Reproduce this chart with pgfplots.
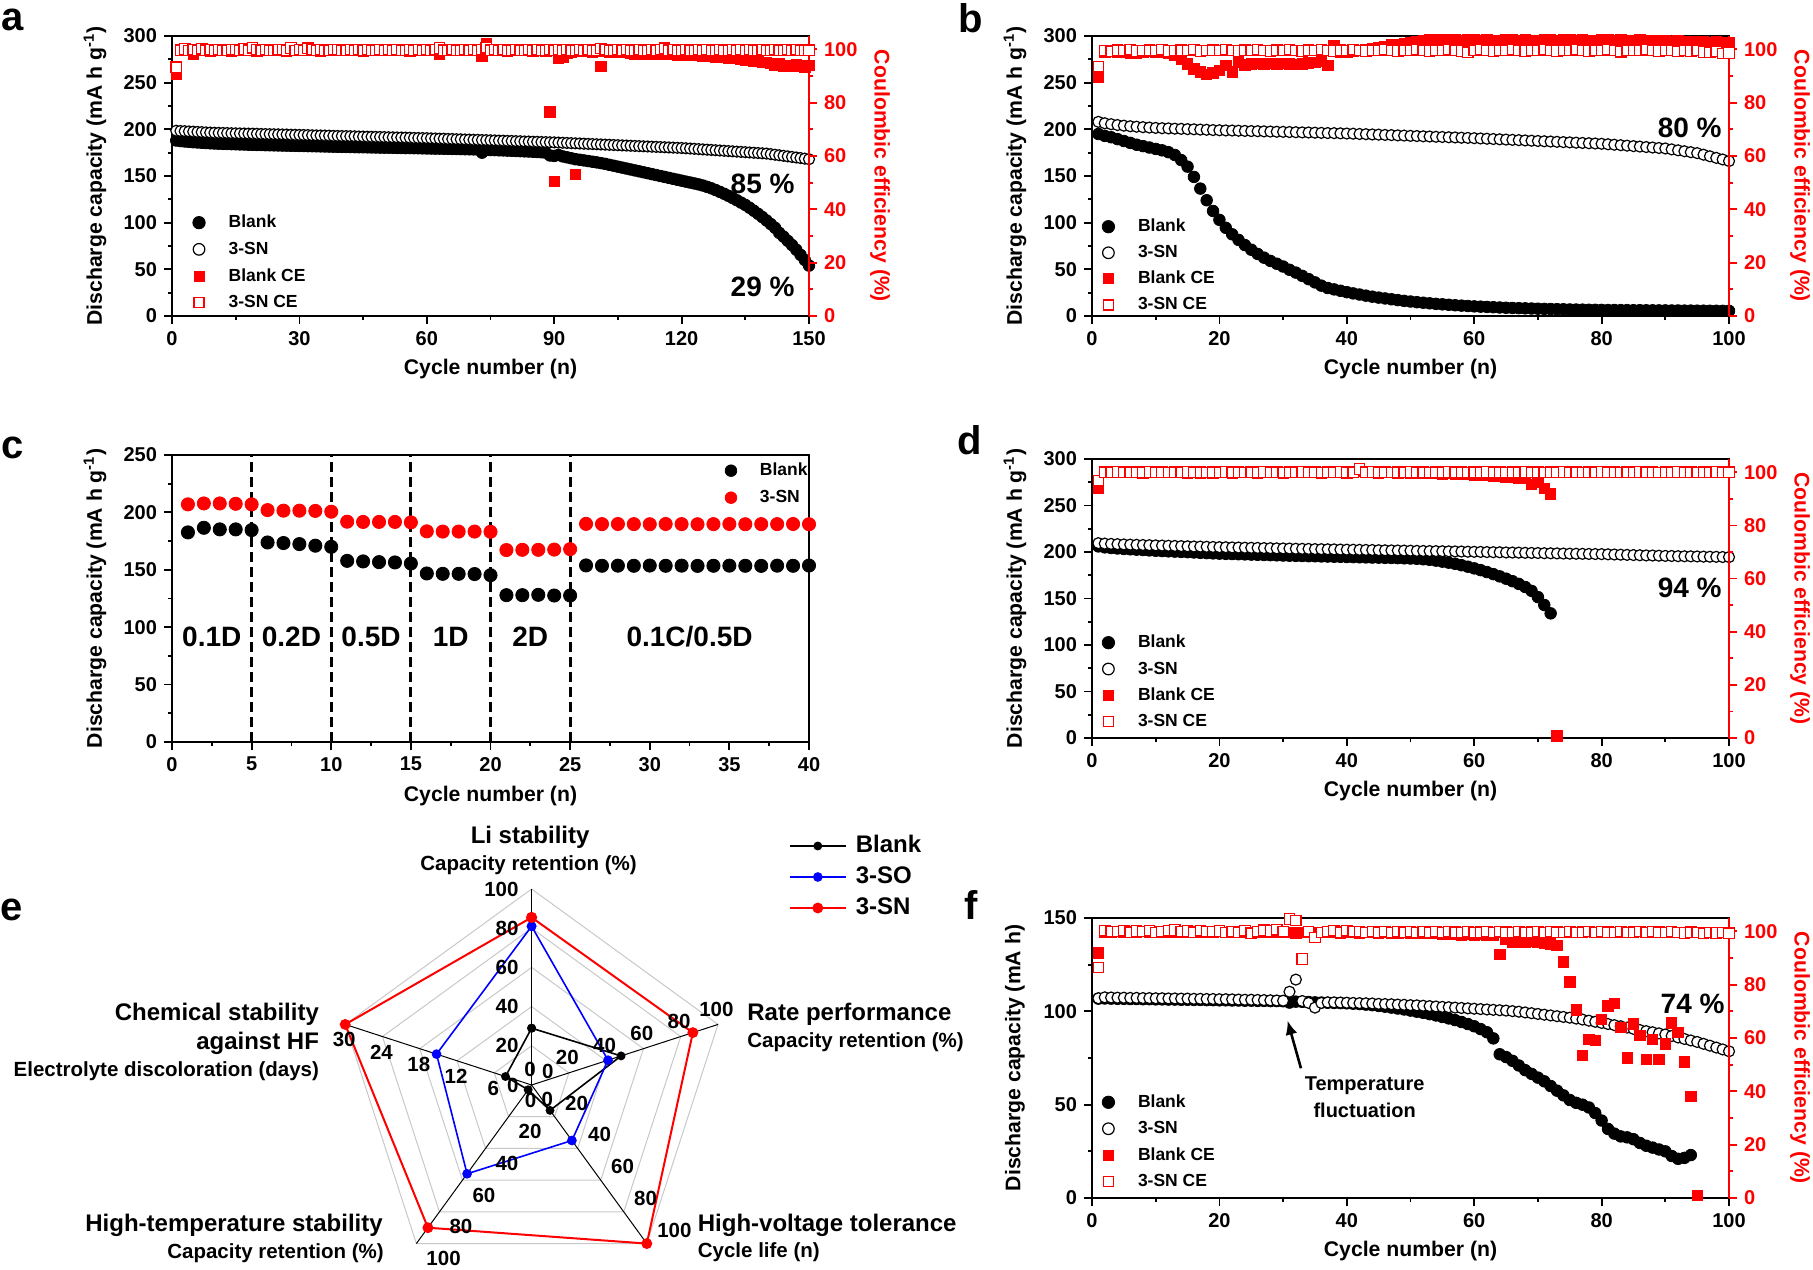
\documentclass[border=0pt]{standalone}
\usepackage{fontspec}
\setmainfont{Liberation Sans}
\usepackage{pgfplots}
\pgfplotsset{compat=1.18}
\usepackage{pgfplotstable}
\usepgfplotslibrary{polar}
\usetikzlibrary{arrows.meta}
\newcommand{\fsz}[1]{\fontsize{#1}{#1}\selectfont\bfseries}
\definecolor{myred}{RGB}{255,0,0}
\definecolor{myblue}{RGB}{0,0,255}
\definecolor{gridgray}{RGB}{200,200,200}

\pgfplotstableread{
x bl sn blce snce
1 188.0 198.5 90.5 93.3
2 187.4 198.2 99.6 99.7
3 187.0 198.0 99.8 100.1
4 186.6 197.7 99.5 99.6
5 186.2 197.5 98.2 99.9
6 185.9 197.2 99.7 99.5
7 185.6 197.0 99.6 100.2
8 185.3 196.7 99.8 99.7
9 185.0 196.5 99.4 99.8
10 184.8 196.3 99.7 99.6
11 184.6 196.2 99.5 100.0
12 184.4 196.1 99.9 99.7
13 184.3 196.0 99.6 99.5
14 184.1 195.8 99.3 99.9
15 184.0 195.7 99.7 99.8
16 183.8 195.6 99.8 99.6
17 183.7 195.5 99.5 100.1
18 183.5 195.4 99.6 99.7
19 183.4 195.3 99.9 100.6
20 183.3 195.2 99.4 99.8
21 183.2 195.0 99.7 99.6
22 183.0 194.9 99.6 99.9
23 182.9 194.8 99.8 99.7
24 182.8 194.7 99.5 99.5
25 182.7 194.6 99.7 99.8
26 182.6 194.5 99.6 100.0
27 182.5 194.4 99.4 99.7
28 182.4 194.2 99.8 100.5
29 182.3 194.1 99.6 99.6
30 182.2 194.0 99.7 99.8
31 182.1 193.9 99.5 99.7
32 182.0 193.8 99.8 100.4
33 181.9 193.6 99.6 99.9
34 181.8 193.5 99.7 99.6
35 181.7 193.4 99.4 99.8
36 181.6 193.3 99.6 99.7
37 181.5 193.2 99.8 99.5
38 181.4 193.0 99.5 99.8
39 181.3 192.9 99.7 100.0
40 181.2 192.8 99.6 99.7
41 181.1 192.7 99.8 99.6
42 181.0 192.6 99.5 99.9
43 180.9 192.5 99.7 99.7
44 180.8 192.3 99.6 99.8
45 180.8 192.2 99.4 99.6
46 180.7 192.1 99.7 99.9
47 180.6 192.0 99.8 99.7
48 180.5 191.9 99.6 99.5
49 180.4 191.8 99.5 99.8
50 180.3 191.7 99.7 99.7
51 180.3 191.5 99.6 99.9
52 180.2 191.4 99.8 99.6
53 180.1 191.3 99.5 99.8
54 180.0 191.2 99.7 99.7
55 179.9 191.1 99.6 99.5
56 179.9 191.0 99.4 99.8
57 179.8 190.8 99.7 99.7
58 179.7 190.7 99.6 100.0
59 179.6 190.6 99.8 99.6
60 179.5 190.5 99.5 99.8
61 179.4 190.3 99.6 99.7
62 179.3 190.2 99.7 99.9
63 179.3 190.0 98.0 100.5
64 179.2 189.9 99.6 99.7
65 179.1 189.7 99.5 99.6
66 179.0 189.6 99.7 99.8
67 178.9 189.4 99.6 99.7
68 178.8 189.3 99.8 99.5
69 178.7 189.1 99.5 99.8
70 178.6 189.0 99.6 99.7
71 178.5 188.8 99.7 99.9
72 178.4 188.7 99.5 99.6
73 175.0 188.5 97.5 99.8
74 178.0 188.4 102.2 100.6
75 177.8 188.2 99.6 99.7
76 177.7 188.1 99.5 99.8
77 177.5 187.9 99.7 99.6
78 177.4 187.8 99.6 99.9
79 177.2 187.6 99.4 99.7
80 177.0 187.5 99.7 99.5
81 176.8 187.3 99.6 99.8
82 176.6 187.2 99.5 99.7
83 176.4 187.0 99.7 99.6
84 176.2 186.9 99.6 99.9
85 176.0 186.7 99.4 99.7
86 175.7 186.6 99.6 99.8
87 175.4 186.4 99.5 99.6
88 175.0 186.3 99.3 99.7
89 172.0 186.1 76.5 99.8
90 171.5 186.0 50.5 99.6
91 172.5 185.8 96.8 99.9
92 171.0 185.6 97.0 99.7
93 170.0 185.4 98.5 99.8
94 169.0 185.2 99.0 99.6
95 168.0 185.0 53.0 99.7
96 167.4 184.8 99.3 99.9
97 166.7 184.6 99.2 99.6
98 166.0 184.4 99.4 99.8
99 165.3 184.2 99.1 99.7
100 164.6 184.0 99.3 99.5
101 163.8 183.8 93.6 100.3
102 163.0 183.6 99.2 99.8
103 162.0 183.4 99.0 99.6
104 161.0 183.2 99.3 99.7
105 160.0 183.0 99.1 99.9
106 159.0 182.8 99.0 99.6
107 158.0 182.6 98.8 99.8
108 157.0 182.4 98.4 99.7
109 156.0 182.2 98.3 99.5
110 155.0 182.0 98.5 99.8
111 154.0 181.8 98.2 99.6
112 153.0 181.6 98.4 99.7
113 152.0 181.4 98.3 99.9
114 151.0 181.2 98.1 99.6
115 150.0 181.0 98.3 99.8
116 149.0 180.8 98.2 100.4
117 148.0 180.6 98.0 99.7
118 147.0 180.4 98.1 99.8
119 146.0 180.2 97.9 99.6
120 145.0 180.0 98.0 99.7
121 144.0 179.7 97.8 99.8
122 143.0 179.4 97.9 99.6
123 142.0 179.1 97.7 99.7
124 141.0 178.8 97.8 99.9
125 139.8 178.5 97.6 99.6
126 138.4 178.2 97.4 99.8
127 136.8 177.9 97.3 99.7
128 135.0 177.6 97.1 99.5
129 133.0 177.3 97.2 99.8
130 131.0 177.0 97.0 99.7
131 128.8 176.7 96.8 99.6
132 126.5 176.4 96.5 99.8
133 124.0 176.1 96.6 99.7
134 121.5 175.8 96.2 99.9
135 119.0 175.5 96.0 99.6
136 116.0 175.2 95.8 99.8
137 112.8 174.9 95.5 99.7
138 109.5 174.6 95.6 99.5
139 106.0 174.3 95.2 99.8
140 102.3 174.0 95.0 99.6
141 98.5 173.4 94.8 99.7
142 94.5 172.8 94.2 99.8
143 89.0 172.2 94.5 99.6
144 85.0 171.6 93.6 99.7
145 80.5 171.0 94.0 99.9
146 76.0 170.4 93.5 99.6
147 71.0 169.8 94.2 99.8
148 65.5 169.2 93.8 99.7
149 60.0 168.6 93.3 99.5
150 54.0 168.0 94.0 99.7
}\tabA

\pgfplotstableread{
x bl sn blce snce
1 195.0 208.0 89.5 93.5
2 193.0 206.5 99.0 99.6
3 191.5 205.5 99.2 99.3
4 189.5 204.6 98.8 99.7
5 187.5 203.9 99.1 99.5
6 185.5 203.3 98.7 99.8
7 183.5 202.8 98.4 99.4
8 182.0 202.3 99.0 99.6
9 180.5 201.9 99.2 99.7
10 179.0 201.5 99.0 99.5
11 177.5 201.2 98.8 99.8
12 175.5 201.0 98.5 99.4
13 172.5 200.7 97.7 99.6
14 167.0 200.5 96.2 99.7
15 160.0 200.2 94.6 99.5
16 149.0 200.0 92.7 99.8
17 136.5 199.7 91.5 99.4
18 124.0 199.5 90.6 99.6
19 112.5 199.2 91.1 99.7
20 103.0 199.0 92.1 99.5
21 94.5 198.8 94.0 99.8
22 87.5 198.7 91.5 99.6
23 81.5 198.5 95.2 99.4
24 76.0 198.3 94.2 99.7
25 71.0 198.1 94.5 99.5
26 66.5 198.0 94.7 99.8
27 62.5 197.8 94.6 99.6
28 59.0 197.6 94.8 99.4
29 56.0 197.4 94.6 99.7
30 53.0 197.3 94.7 99.5
31 49.5 197.1 94.5 99.8
32 46.5 196.9 94.3 99.6
33 43.0 196.7 94.6 99.4
34 39.5 196.6 94.9 99.7
35 36.0 196.4 95.2 99.5
36 32.5 196.2 95.5 99.8
37 30.0 196.0 94.0 99.6
38 28.5 195.9 101.5 99.4
39 27.0 195.7 99.0 99.7
40 25.5 195.5 98.8 99.5
41 24.2 195.3 99.2 99.8
42 23.0 195.0 99.5 99.6
43 21.8 194.8 99.8 99.4
44 20.7 194.5 100.3 99.7
45 19.7 194.3 100.8 99.5
46 18.8 194.0 101.2 99.8
47 17.9 193.8 101.6 99.6
48 17.0 193.5 101.9 99.4
49 16.2 193.3 102.2 99.7
50 15.5 193.0 102.6 99.5
51 14.8 192.8 103.0 99.8
52 14.2 192.5 103.3 99.6
53 13.6 192.3 103.5 99.4
54 13.0 192.0 103.6 99.7
55 12.5 191.8 103.5 99.5
56 12.0 191.5 103.6 99.8
57 11.5 191.3 103.5 99.6
58 11.1 191.0 103.4 99.4
59 10.7 190.8 103.5 98.9
60 10.3 190.5 103.6 99.5
61 10.0 190.2 103.4 99.8
62 9.7 189.9 103.5 99.6
63 9.4 189.6 103.3 99.4
64 9.1 189.3 103.4 99.7
65 8.8 189.0 103.5 99.5
66 8.6 188.7 103.6 99.8
67 8.4 188.4 103.4 99.6
68 8.2 188.1 103.5 99.4
69 8.0 187.8 103.3 99.7
70 7.8 187.5 103.4 99.5
71 7.6 187.2 103.6 99.8
72 7.5 186.9 103.5 99.6
73 7.3 186.6 103.4 99.4
74 7.2 186.3 103.5 99.7
75 7.0 186.0 103.6 99.5
76 6.9 185.7 103.4 99.8
77 6.8 185.4 103.5 99.6
78 6.7 185.1 103.3 99.4
79 6.6 184.8 103.4 99.7
80 6.5 184.5 103.5 99.5
81 6.4 184.0 103.6 99.8
82 6.4 183.5 103.4 99.6
83 6.3 183.0 103.5 99.1
84 6.3 182.5 103.3 99.5
85 6.2 182.0 103.4 99.7
86 6.2 181.5 103.5 99.5
87 6.1 181.0 103.3 99.8
88 6.1 180.5 103.4 99.6
89 6.0 180.0 103.2 99.4
90 6.0 179.5 103.3 99.7
91 5.9 178.5 103.0 99.5
92 5.9 177.5 103.1 99.3
93 5.8 176.5 102.9 99.6
94 5.8 175.5 103.0 99.4
95 5.7 174.5 102.8 99.5
96 5.7 172.8 102.9 99.0
97 5.6 171.1 102.7 98.8
98 5.6 169.4 102.8 99.2
99 5.5 167.7 102.6 98.5
100 5.5 166.0 102.7 98.6
}\tabB

\pgfplotstableread{
x bl sn
1 182.6 207.0
2 186.6 207.8
3 185.2 207.8
4 185.2 207.5
5 184.6 207.0
6 173.8 202.0
7 173.3 201.5
8 172.4 201.5
9 171.0 201.3
10 170.0 200.6
11 157.8 191.9
12 157.3 191.7
13 156.7 191.7
14 156.4 191.7
15 155.5 191.3
16 146.8 183.5
17 146.5 183.3
18 146.5 183.3
19 146.3 183.3
20 145.3 183.1
21 127.9 167.2
22 127.9 167.4
23 128.2 167.4
24 127.6 167.6
25 127.6 168.0
26 153.8 190.0
27 153.5 189.8
28 153.6 189.9
29 153.5 189.8
30 153.7 189.7
31 153.5 189.9
32 153.6 189.8
33 153.4 189.7
34 153.5 189.8
35 153.6 189.9
36 153.5 189.7
37 153.4 189.8
38 153.6 189.8
39 153.5 189.9
40 153.7 189.7
}\tabC

\pgfplotstableread{
x bl sn blce snce
1 206.0 209.5 94.0 96.8
2 205.0 209.0 99.9 100.0
3 204.3 208.7 100.1 100.0
4 203.8 208.4 100.0 100.1
5 203.3 208.1 99.9 100.0
6 202.9 207.9 100.1 99.9
7 202.5 207.7 100.0 100.0
8 202.1 207.5 99.8 100.0
9 201.7 207.3 100.0 100.1
10 201.3 207.1 100.1 100.0
11 201.0 206.9 99.9 100.0
12 200.7 206.7 100.0 99.9
13 200.4 206.5 100.1 100.0
14 200.1 206.3 99.9 100.0
15 199.8 206.1 99.7 100.1
16 199.5 205.9 100.0 100.0
17 199.1 205.8 99.8 100.0
18 198.8 205.6 100.0 99.9
19 198.5 205.4 99.7 100.0
20 198.2 205.2 99.9 100.0
21 198.0 205.1 100.0 100.1
22 197.8 204.9 99.8 100.0
23 197.6 204.8 100.0 100.0
24 197.4 204.6 99.9 99.9
25 197.2 204.5 100.1 100.0
26 197.0 204.4 99.8 100.0
27 196.8 204.2 100.0 100.1
28 196.6 204.1 99.9 100.0
29 196.4 203.9 100.0 100.0
30 196.2 203.8 99.8 99.9
31 196.0 203.7 100.0 100.0
32 195.8 203.5 99.9 100.0
33 195.7 203.4 100.1 100.1
34 195.5 203.3 99.9 100.0
35 195.4 203.1 100.0 100.0
36 195.2 203.0 99.8 99.9
37 195.1 202.9 100.0 100.0
38 194.9 202.8 99.9 100.0
39 194.8 202.6 100.0 100.1
40 194.6 202.5 99.8 100.0
41 194.5 202.4 100.0 100.0
42 194.3 202.3 100.4 101.2
43 194.2 202.2 99.9 100.0
44 194.0 202.1 100.0 100.1
45 193.9 201.9 99.8 100.0
46 193.7 201.8 100.0 100.0
47 193.6 201.7 99.9 99.9
48 193.4 201.6 99.8 100.0
49 193.2 201.5 100.0 100.0
50 193.0 201.4 99.7 100.1
51 192.7 201.2 99.6 100.0
52 192.2 201.1 99.7 100.0
53 191.6 201.0 99.5 99.9
54 190.7 200.9 99.6 100.0
55 189.6 200.8 99.4 100.0
56 188.5 200.7 99.5 100.1
57 187.3 200.6 99.3 100.0
58 185.8 200.5 99.4 100.0
59 184.2 200.3 99.2 99.9
60 182.4 200.2 99.0 100.0
61 180.5 200.1 99.0 100.0
62 178.4 199.9 98.8 100.1
63 176.2 199.8 98.7 100.0
64 173.8 199.7 98.5 100.0
65 171.3 199.5 98.3 99.9
66 168.6 199.4 98.0 100.0
67 165.7 199.3 97.8 100.0
68 162.4 199.1 97.6 100.1
69 158.2 199.0 95.5 100.0
70 151.5 198.9 96.3 100.0
71 143.0 198.7 94.0 99.9
72 134.0 198.6 91.8 100.0
73 nan 198.5 0.8 100.0
74 nan 198.3 nan 100.1
75 nan 198.2 nan 100.0
76 nan 198.1 nan 100.0
77 nan 198.0 nan 99.9
78 nan 197.9 nan 100.0
79 nan 197.8 nan 100.0
80 nan 197.7 nan 100.1
81 nan 197.5 nan 100.0
82 nan 197.3 nan 100.0
83 nan 197.1 nan 99.9
84 nan 196.9 nan 100.0
85 nan 196.7 nan 100.0
86 nan 196.5 nan 100.1
87 nan 196.3 nan 100.0
88 nan 196.2 nan 100.0
89 nan 196.0 nan 99.9
90 nan 195.8 nan 100.0
91 nan 195.7 nan 100.0
92 nan 195.5 nan 100.1
93 nan 195.4 nan 100.0
94 nan 195.3 nan 100.0
95 nan 195.2 nan 99.9
96 nan 195.0 nan 100.0
97 nan 194.9 nan 100.0
98 nan 194.8 nan 100.1
99 nan 194.6 nan 100.0
100 nan 194.5 nan 100.0
}\tabD

\pgfplotstableread{
x bl sn blce snce
1 106.8 107.0 91.9 86.5
2 106.9 107.5 99.8 100.2
3 106.8 107.4 99.6 99.8
4 106.7 107.3 99.9 100.0
5 106.7 107.3 99.7 100.3
6 106.6 107.2 99.8 99.7
7 106.6 107.2 99.6 100.1
8 106.5 107.1 99.9 99.9
9 106.5 107.1 99.7 100.2
10 106.4 107.0 99.8 99.6
11 106.4 107.0 99.6 100.0
12 106.3 106.9 99.8 100.3
13 106.3 106.9 99.7 100.5
14 106.2 106.8 99.9 99.8
15 106.2 106.8 99.6 100.1
16 106.1 106.7 99.8 99.7
17 106.1 106.7 99.7 100.2
18 106.0 106.6 99.8 100.0
19 106.0 106.6 99.6 99.8
20 105.9 106.5 99.9 100.1
21 105.9 106.5 99.7 99.6
22 105.8 106.4 99.8 100.0
23 105.8 106.3 99.6 99.7
24 105.7 106.2 99.8 100.2
25 105.7 106.2 99.7 99.3
26 105.6 106.1 99.9 99.8
27 105.6 106.0 99.6 100.4
28 105.5 105.9 99.8 100.1
29 105.5 105.8 99.7 100.6
30 105.4 105.7 99.8 99.8
31 104.7 110.5 99.6 104.6
32 105.2 117.0 99.4 104.0
33 105.1 105.5 99.6 89.6
34 105.0 104.5 99.5 99.8
35 104.8 102.0 99.7 97.7
36 104.7 104.5 99.5 99.6
37 104.6 104.8 99.6 100.0
38 104.5 104.8 99.5 100.3
39 104.4 104.7 99.4 99.7
40 104.3 104.6 99.6 100.2
41 104.1 104.5 99.5 99.8
42 103.9 104.4 99.4 99.9
43 103.6 104.3 99.5 99.6
44 103.3 104.2 99.6 100.0
45 102.9 104.0 99.4 99.7
46 102.5 103.9 99.5 99.9
47 102.0 103.8 99.3 99.6
48 101.5 103.6 99.4 99.8
49 101.0 103.5 99.5 99.7
50 100.4 103.3 99.3 99.9
51 99.8 103.2 99.4 99.6
52 99.2 103.0 99.2 99.8
53 98.5 102.8 99.3 99.7
54 97.8 102.6 99.2 99.9
55 97.0 102.4 98.9 99.6
56 96.2 102.2 98.8 99.8
57 95.3 102.0 98.9 99.7
58 94.3 101.8 98.7 99.5
59 93.2 101.6 98.8 99.8
60 92.0 101.4 98.7 99.6
61 90.5 101.2 98.8 99.7
62 88.8 101.0 98.6 99.9
63 85.5 100.8 98.5 99.6
64 77.0 100.6 91.3 99.8
65 75.5 100.4 97.0 99.7
66 73.5 100.1 96.0 99.5
67 71.0 99.8 96.0 99.8
68 68.5 99.4 96.0 99.6
69 66.5 99.0 96.2 99.7
70 64.5 98.6 96.0 99.9
71 62.5 98.2 95.5 99.6
72 60.0 97.8 95.3 99.8
73 57.5 97.4 94.8 99.7
74 55.0 97.0 88.5 99.5
75 52.5 96.6 81.0 99.8
76 51.0 96.1 70.5 99.6
77 50.0 95.6 53.5 99.7
78 48.5 95.0 59.5 99.9
79 45.5 94.4 59.0 99.6
80 41.5 93.8 67.0 99.8
81 37.0 93.2 72.0 99.7
82 34.5 92.6 73.0 99.5
83 33.0 92.0 64.0 99.8
84 32.5 91.3 52.5 99.6
85 31.5 90.6 65.3 99.7
86 29.5 90.0 61.0 99.9
87 28.0 89.4 52.0 99.6
88 27.0 88.8 59.5 99.8
89 26.0 88.2 52.0 99.7
90 25.0 87.6 57.8 99.5
91 22.5 86.8 65.6 99.8
92 21.0 86.0 62.0 99.6
93 21.5 85.2 51.0 99.4
94 23.0 84.4 38.0 99.7
95 nan 83.6 0.9 99.5
96 nan 82.6 nan 99.3
97 nan 81.6 nan 99.6
98 nan 80.6 nan 99.4
99 nan 79.6 nan 99.5
100 nan 78.6 nan 99.3
}\tabF

\pgfplotsset{
  capstyle/.style={
    scale only axis, clip=false, anchor=south west,
    axis line style={line width=1pt},
    tick style={line width=0.9pt, black},
    tick align=outside, xtick pos=bottom, ytick pos=left,
    major tick length=4pt, minor tick length=2.2pt,
    tick label style={font=\fsz{10}},
    /pgf/number format/assume math mode=true,
    every axis y label/.style={at={(axis description cs:-0.1209,0.5)}, rotate=90, anchor=center, font=\fsz{10.6}},
    every axis x label/.style={at={(axis description cs:0.5,-0.189)}, anchor=center, font=\fsz{10.6}},
    legend cell align=left,
    legend image code/.code={\draw[##1] plot coordinates {(0pt,0pt)};},
    legend style={draw=none, fill=none, anchor=north west, inner sep=0pt, outer sep=0pt,
      column sep=11.7pt, row sep=5.3pt, font=\fsz{8.75},
      nodes={inner sep=0pt, text height=6.5pt, text depth=1.5pt}},
  },
  cestyle/.style={
    scale only axis, clip=false, anchor=south west,
    axis x line=none, axis y line*=right,
    y axis line style={myred, line width=1pt, -},
    tick align=outside,
    ytick style={myred, line width=0.9pt},
    major tick length=4pt, minor tick length=2.2pt,
    yticklabel style={text=myred, font=\fsz{10}},
    /pgf/number format/assume math mode=true,
    ymin=0, ymax=105, ytick={0,20,...,100}, minor y tick num=1,
    ylabel={Coulombic efficiency (\%)},
    every axis y label/.style={at={(axis description cs:1.1115,0.5)}, rotate=-90, anchor=center, font=\fsz{10.6}, text=myred},
  },
  blankm/.style={only marks, mark=*, mark size=2.9pt, black, forget plot},
  snm/.style={only marks, mark=*, mark size=2.75pt, black, mark options={fill=white, line width=0.6pt}, forget plot},
  blcem/.style={only marks, mark=square*, mark size=2.6pt, myred, forget plot},
  sncem/.style={only marks, mark=square*, mark size=2.6pt, myred, mark options={fill=white, line width=0.6pt}, forget plot},
}

\newcommand{\fourlegend}{%
  \addlegendimage{only marks, mark=*, mark size=3.1pt, black}
  \addlegendentry{Blank}
  \addlegendimage{only marks, mark=*, mark size=2.9pt, black, mark options={fill=white, line width=0.6pt}}
  \addlegendentry{3-SN}
  \addlegendimage{only marks, mark=square*, mark size=2.5pt, myred}
  \addlegendentry{Blank CE}
  \addlegendimage{only marks, mark=square*, mark size=2.5pt, myred, mark options={fill=white, line width=0.6pt}}
  \addlegendentry{3-SN CE}%
}

\begin{document}
\begin{tikzpicture}
\path[use as bounding box] (0,0) rectangle (906.5pt,634.5pt);
\coordinate (legE) at (128.6pt,125.15pt);

% ---------------- panel a
\begin{axis}[capstyle, at={(86pt,476.5pt)}, width=318.5pt, height=140pt,
  xmin=0, xmax=150, ymin=0, ymax=300, xtick={0,30,...,150}, minor x tick num=1,
  ytick={0,50,...,300}, minor y tick num=1,
  xlabel={Cycle number (n)}, ylabel={Discharge capacity (mA h g\textsuperscript{-1})},
  legend style={at={(axis description cs:0.0327,0.3618)}, row sep=5.33pt}]
\addplot[blankm] table[x=x,y=bl]{\tabA};
\addplot[snm] table[x=x,y=sn]{\tabA};
\fourlegend
\end{axis}
\begin{axis}[cestyle, at={(86pt,476.5pt)}, width=318.5pt, height=140pt, xmin=0, xmax=150]
\addplot[blcem] table[x=x,y=blce]{\tabA};
\addplot[sncem] table[x=x,y=snce]{\tabA};
\end{axis}

% ---------------- panel b
\begin{axis}[capstyle, at={(546pt,476.5pt)}, width=318.5pt, height=140pt,
  xmin=0, xmax=100, ymin=0, ymax=300, xtick={0,20,...,100}, minor x tick num=1,
  ytick={0,50,...,300}, minor y tick num=1,
  xlabel={Cycle number (n)}, ylabel={Discharge capacity (mA h g\textsuperscript{-1})},
  legend style={at={(axis description cs:0.016,0.3475)}, row sep=5.05pt}]
\addplot[blankm] table[x=x,y=bl]{\tabB};
\addplot[snm] table[x=x,y=sn]{\tabB};
\fourlegend
\end{axis}
\begin{axis}[cestyle, at={(546pt,476.5pt)}, width=318.5pt, height=140pt, xmin=0, xmax=100]
\addplot[blcem] table[x=x,y=blce]{\tabB};
\addplot[sncem] table[x=x,y=snce]{\tabB};
\end{axis}

% ---------------- panel c
\begin{axis}[capstyle, at={(86pt,263.5pt)}, width=318.5pt, height=143.5pt,
  xmin=0, xmax=40, ymin=0, ymax=250, xtick={0,5,...,40}, minor x tick num=1,
  ytick={0,50,...,250}, minor y tick num=1,
  xlabel={Cycle number (n)}, ylabel={Discharge capacity (mA h g\textsuperscript{-1})},
  legend style={at={(axis description cs:0.8684,0.9732)}, row sep=5.5pt, column sep=11.6pt}]
\addplot[black, line width=1.5pt, dash pattern=on 5pt off 2.5pt, forget plot] coordinates {(5,0) (5,250)};
\addplot[black, line width=1.5pt, dash pattern=on 5pt off 2.5pt, forget plot] coordinates {(10,0) (10,250)};
\addplot[black, line width=1.5pt, dash pattern=on 5pt off 2.5pt, forget plot] coordinates {(15,0) (15,250)};
\addplot[black, line width=1.5pt, dash pattern=on 5pt off 2.5pt, forget plot] coordinates {(20,0) (20,250)};
\addplot[black, line width=1.5pt, dash pattern=on 5pt off 2.5pt, forget plot] coordinates {(25,0) (25,250)};
\addplot[only marks, mark=*, mark size=3.3pt, black, forget plot] table[x=x,y=bl]{\tabC};
\addplot[only marks, mark=*, mark size=3.3pt, myred, forget plot] table[x=x,y=sn]{\tabC};
\addlegendimage{only marks, mark=*, mark size=2.9pt, black}
\addlegendentry{Blank}
\addlegendimage{only marks, mark=*, mark size=2.9pt, myred}
\addlegendentry{3-SN}
\node[font=\fsz{14}] at (axis cs:2.5,92) {0.1D};
\node[font=\fsz{14}] at (axis cs:7.5,92) {0.2D};
\node[font=\fsz{14}] at (axis cs:12.5,92) {0.5D};
\node[font=\fsz{14}] at (axis cs:17.5,92) {1D};
\node[font=\fsz{14}] at (axis cs:22.5,92) {2D};
\node[font=\fsz{14}] at (axis cs:32.5,92) {0.1C/0.5D};
\end{axis}

% ---------------- panel d
\begin{axis}[capstyle, at={(546pt,265.5pt)}, width=318.5pt, height=139.5pt,
  xmin=0, xmax=100, ymin=0, ymax=300, xtick={0,20,...,100}, minor x tick num=1,
  ytick={0,50,...,300}, minor y tick num=1,
  xlabel={Cycle number (n)}, ylabel={Discharge capacity (mA h g\textsuperscript{-1})},
  legend style={at={(axis description cs:0.016,0.3703)}, row sep=5.17pt}]
\addplot[blankm] table[x=x,y=bl]{\tabD};
\addplot[snm] table[x=x,y=sn]{\tabD};
\fourlegend
\end{axis}
\begin{axis}[cestyle, at={(546pt,265.5pt)}, width=318.5pt, height=139.5pt, xmin=0, xmax=100]
\addplot[blcem] table[x=x,y=blce]{\tabD};
\addplot[sncem] table[x=x,y=snce]{\tabD};
\end{axis}

% ---------------- panel f
\begin{axis}[capstyle, at={(546pt,35.5pt)}, width=318.5pt, height=140pt,
  xmin=0, xmax=100, ymin=0, ymax=150, xtick={0,20,...,100}, minor x tick num=1,
  ytick={0,50,100,150}, minor y tick num=1,
  xlabel={Cycle number (n)}, ylabel={Discharge capacity (mA h)},
  legend style={at={(axis description cs:0.016,0.3704)}, row sep=5.23pt}]
\addplot[blankm] table[x=x,y=bl]{\tabF};
\addplot[snm] table[x=x,y=sn]{\tabF};
\fourlegend
\draw[-{Latex[length=7pt,width=6pt]}, line width=1.3pt] (axis cs:32.8,69.5) -- (axis cs:30.7,95);
\node[font=\fsz{10}] at (axis cs:42.8,60.1) {Temperature};
\node[font=\fsz{10}] at (axis cs:42.8,46.8) {fluctuation};
\end{axis}
\begin{axis}[cestyle, at={(546pt,35.5pt)}, width=318.5pt, height=140pt, xmin=0, xmax=100]
\addplot[blcem] table[x=x,y=blce]{\tabF};
\addplot[sncem] table[x=x,y=snce]{\tabF};
\end{axis}

% ---------------- panel e (radar)
\begin{polaraxis}[at={(265.8pt,92pt)}, anchor=center, scale only axis, width=196pt, height=196pt,
  hide axis, xmin=0, xmax=360, ymin=0, ymax=100, clip=false,
  legend cell align=left,
  legend image code/.code={\draw[mark repeat=2,mark phase=2,#1] plot coordinates {(0pt,0pt) (14pt,0pt) (28pt,0pt)};},
  legend style={at={(legE)}, anchor=north west, draw=none, fill=none, inner sep=0pt, outer sep=0pt,
    column sep=4.5pt, row sep=4.2pt, font=\fsz{12},
    nodes={inner sep=0pt, text height=8.8pt, text depth=2.5pt}}]
\addplot[gridgray, line width=0.5pt, forget plot] coordinates {(90,20) (18,20) (306,20) (234,20) (162,20) (90,20)};
\addplot[gridgray, line width=0.5pt, forget plot] coordinates {(90,40) (18,40) (306,40) (234,40) (162,40) (90,40)};
\addplot[gridgray, line width=0.5pt, forget plot] coordinates {(90,60) (18,60) (306,60) (234,60) (162,60) (90,60)};
\addplot[gridgray, line width=0.5pt, forget plot] coordinates {(90,80) (18,80) (306,80) (234,80) (162,80) (90,80)};
\addplot[gridgray, line width=0.5pt, forget plot] coordinates {(90,100) (18,100) (306,100) (234,100) (162,100) (90,100)};
\addplot[black, line width=0.5pt, forget plot] coordinates {(90,0) (90,100)};
\addplot[black, line width=0.5pt, forget plot] coordinates {(18,0) (18,100)};
\addplot[black, line width=0.5pt, forget plot] coordinates {(306,0) (306,100)};
\addplot[black, line width=0.5pt, forget plot] coordinates {(234,0) (234,100)};
\addplot[black, line width=0.5pt, forget plot] coordinates {(162,0) (162,100)};
\addplot[black, line width=0.8pt, mark=*, mark size=1.8pt] coordinates {(90,29) (18,48) (306,16) (234,3) (162,14) (90,29)};
\addlegendentry{Blank}
\addplot[myblue, line width=0.8pt, mark=*, mark size=2pt] coordinates {(90,81) (18,41) (306,35) (234,56) (162,51) (90,81)};
\addlegendentry{3-SO}
\addplot[myred, line width=1pt, mark=*, mark size=2.2pt] coordinates {(90,85.5) (18,86.5) (306,100) (234,90) (162,100) (90,85.5)};
\addlegendentry{3-SN}
% Li stability axis labels
\node[font=\fsz{10.25}, anchor=east, xshift=-3pt] at (axis cs:90,0) {0};
\node[font=\fsz{10.25}, anchor=east, xshift=-3pt] at (axis cs:90,20) {20};
\node[font=\fsz{10.25}, anchor=east, xshift=-3pt] at (axis cs:90,40) {40};
\node[font=\fsz{10.25}, anchor=east, xshift=-3pt] at (axis cs:90,60) {60};
\node[font=\fsz{10.25}, anchor=east, xshift=-3pt] at (axis cs:90,80) {80};
\node[font=\fsz{10.25}, anchor=east, xshift=-3pt] at (axis cs:90,100) {100};
% Rate
\node[font=\fsz{10.25}, xshift=-0.8pt, yshift=7.6pt] at (axis cs:18,0) {0};
\node[font=\fsz{10.25}, xshift=-0.8pt, yshift=7.6pt] at (axis cs:18,20) {20};
\node[font=\fsz{10.25}, xshift=-0.8pt, yshift=7.6pt] at (axis cs:18,40) {40};
\node[font=\fsz{10.25}, xshift=-0.8pt, yshift=7.6pt] at (axis cs:18,60) {60};
\node[font=\fsz{10.25}, xshift=-0.8pt, yshift=7.6pt] at (axis cs:18,80) {80};
\node[font=\fsz{10.25}, xshift=-0.8pt, yshift=7.6pt] at (axis cs:18,100) {100};
% High-voltage
\node[font=\fsz{10.25}, anchor=west, xshift=1.7pt, yshift=6.8pt] at (axis cs:306,0) {0};
\node[font=\fsz{10.25}, anchor=west, xshift=1.7pt, yshift=6.8pt] at (axis cs:306,20) {20};
\node[font=\fsz{10.25}, anchor=west, xshift=1.7pt, yshift=6.8pt] at (axis cs:306,40) {40};
\node[font=\fsz{10.25}, anchor=west, xshift=1.7pt, yshift=6.8pt] at (axis cs:306,60) {60};
\node[font=\fsz{10.25}, anchor=west, xshift=1.7pt, yshift=6.8pt] at (axis cs:306,80) {80};
\node[font=\fsz{10.25}, anchor=west, xshift=1.7pt, yshift=6.8pt] at (axis cs:306,100) {100};
% High-temperature
\node[font=\fsz{10.25}, anchor=west, xshift=1.5pt, yshift=-7.4pt] at (axis cs:234,0) {0};
\node[font=\fsz{10.25}, anchor=west, xshift=1.5pt, yshift=-7.4pt] at (axis cs:234,20) {20};
\node[font=\fsz{10.25}, anchor=west, xshift=1.5pt, yshift=-7.4pt] at (axis cs:234,40) {40};
\node[font=\fsz{10.25}, anchor=west, xshift=1.5pt, yshift=-7.4pt] at (axis cs:234,60) {60};
\node[font=\fsz{10.25}, anchor=west, xshift=1.5pt, yshift=-7.4pt] at (axis cs:234,80) {80};
\node[font=\fsz{10.25}, anchor=west, xshift=1.5pt, yshift=-7.4pt] at (axis cs:234,100) {100};
% Chemical stability (days)
\node[font=\fsz{10.25}, xshift=-0.5pt, yshift=-7.75pt] at (axis cs:162,0) {0};
\node[font=\fsz{10.25}, xshift=-0.5pt, yshift=-7.75pt] at (axis cs:162,20) {6};
\node[font=\fsz{10.25}, xshift=-0.5pt, yshift=-7.75pt] at (axis cs:162,40) {12};
\node[font=\fsz{10.25}, xshift=-0.5pt, yshift=-7.75pt] at (axis cs:162,60) {18};
\node[font=\fsz{10.25}, xshift=-0.5pt, yshift=-7.75pt] at (axis cs:162,80) {24};
\node[font=\fsz{10.25}, xshift=-0.5pt, yshift=-7.75pt] at (axis cs:162,100) {30};
\end{polaraxis}

% radar titles
\node[font=\fsz{12}] at (265.05pt,215.85pt) {Li stability};
\node[font=\fsz{10.25}] at (264.3pt,202pt) {Capacity retention (\%)};
\node[font=\fsz{12}, anchor=west] at (370.15pt,127.35pt) {Rate performance};
\node[font=\fsz{10.25}, anchor=west] at (370.15pt,113.65pt) {Capacity retention (\%)};
\node[font=\fsz{12}, anchor=west] at (345.4pt,22pt) {High-voltage tolerance};
\node[font=\fsz{10.25}, anchor=west] at (345.4pt,8.35pt) {Cycle life (n)};
\node[font=\fsz{12}, anchor=east] at (194.9pt,22pt) {High-temperature stability};
\node[font=\fsz{10.25}, anchor=east] at (195.4pt,8.15pt) {Capacity retention (\%)};
\node[font=\fsz{12}, anchor=east] at (163pt,127.35pt) {Chemical stability};
\node[font=\fsz{12}, anchor=east] at (163pt,112.85pt) {against HF};
\node[font=\fsz{10.25}, anchor=east] at (163pt,99.15pt) {Electrolyte discoloration (days)};

% annotations
\node[font=\fsz{14}] at (381.3pt,542.35pt) {85 \%};
\node[font=\fsz{14}] at (381.3pt,490.85pt) {29 \%};
\node[font=\fsz{14}] at (844.85pt,570.35pt) {80 \%};
\node[font=\fsz{14}] at (844.85pt,340.35pt) {94 \%};
\node[font=\fsz{14}] at (846.3pt,132.5pt) {74 \%};

% panel letters
\node[font=\fsz{20}, anchor=base] at (6.35pt,619pt) {a};
\node[font=\fsz{20}, anchor=base] at (485.5pt,618pt) {b};
\node[font=\fsz{20}, anchor=base] at (6.35pt,405pt) {c};
\node[font=\fsz{20}, anchor=base] at (484.8pt,407pt) {d};
\node[font=\fsz{20}, anchor=base] at (5.8pt,174.5pt) {e};
\node[font=\fsz{20}, anchor=base] at (485.4pt,175pt) {f};
\end{tikzpicture}
\end{document}
